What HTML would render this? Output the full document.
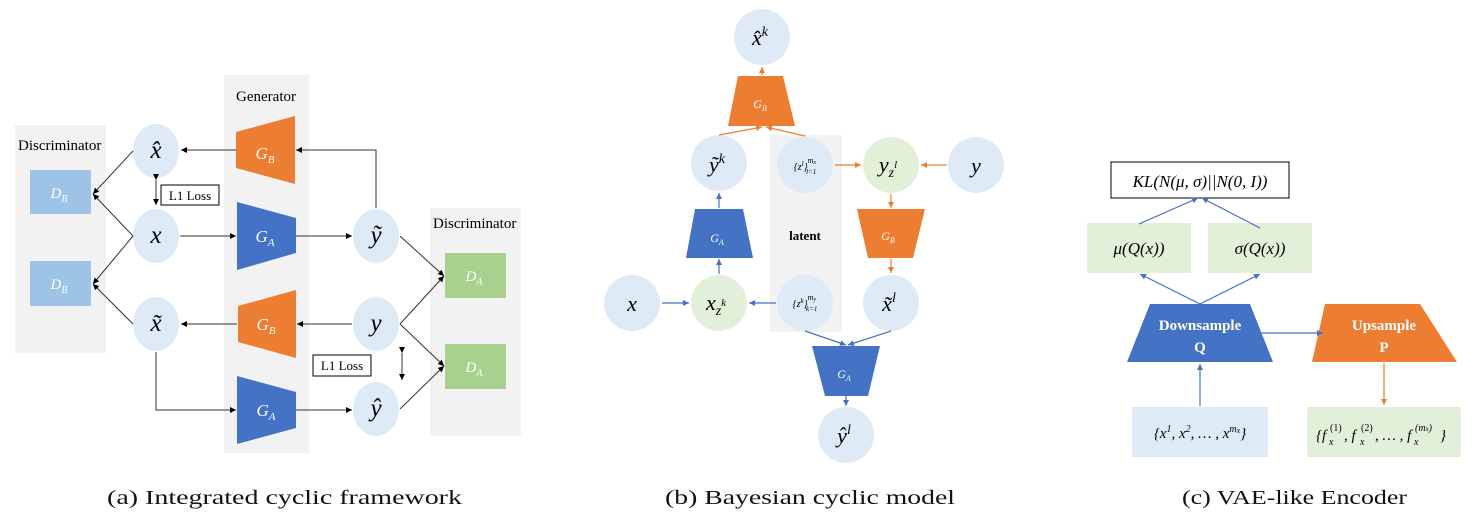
<!DOCTYPE html>
<html><head><meta charset="utf-8"><style>
html,body{margin:0;padding:0;background:#fff;}
svg{display:block;}
.m{font-family:"Liberation Serif",serif;font-style:italic;fill:#000;}
.w{font-family:"Liberation Serif",serif;font-style:italic;fill:#fff;}
.t{font-family:"Liberation Serif",serif;fill:#000;}
.cap{font-family:"Liberation Serif",serif;font-size:20px;fill:#111;}
</style></head><body>
<svg width="1484" height="518" viewBox="0 0 1484 518" xmlns="http://www.w3.org/2000/svg">
<defs>
<marker id="ak" markerWidth="7" markerHeight="7" refX="6" refY="3.5" orient="auto" markerUnits="userSpaceOnUse"><path d="M0,0.5 L6,3.5 L0,6.5z" fill="#000"/></marker>
<marker id="ab" markerWidth="7" markerHeight="7" refX="6" refY="3.5" orient="auto" markerUnits="userSpaceOnUse"><path d="M0,0.5 L6,3.5 L0,6.5z" fill="#4472C4"/></marker>
<marker id="ao" markerWidth="7" markerHeight="7" refX="6" refY="3.5" orient="auto" markerUnits="userSpaceOnUse"><path d="M0,0.5 L6,3.5 L0,6.5z" fill="#ED7D31"/></marker>
</defs>

<!-- Panel (a) -->
<g>
<rect x="15" y="125" width="91" height="228" fill="#F2F2F2"/>
<text x="18" y="150" class="t" font-size="15">Discriminator</text>
<rect x="224" y="75" width="85" height="378" fill="#F2F2F2"/>
<text x="266" y="101" class="t" font-size="15" text-anchor="middle">Generator</text>
<rect x="430" y="208" width="91" height="228" fill="#F2F2F2"/>
<text x="433" y="228" class="t" font-size="15">Discriminator</text>

<rect x="30" y="170" width="61" height="44" fill="#9DC3E6"/>
<text x="59" y="198" class="w" font-size="15" text-anchor="middle">D<tspan font-size="10" dy="4">B</tspan></text>
<rect x="30" y="261" width="61" height="45" fill="#9DC3E6"/>
<text x="59" y="289" class="w" font-size="15" text-anchor="middle">D<tspan font-size="10" dy="4">B</tspan></text>
<rect x="445" y="253" width="61" height="45" fill="#A9D18E"/>
<text x="474" y="281" class="w" font-size="15" text-anchor="middle">D<tspan font-size="10" dy="4">A</tspan></text>
<rect x="445" y="344" width="61" height="45" fill="#A9D18E"/>
<text x="474" y="372" class="w" font-size="15" text-anchor="middle">D<tspan font-size="10" dy="4">A</tspan></text>

<polygon points="236,132 295,116 295,184 236,168" fill="#ED7D31"/>
<text x="265" y="159" class="w" font-size="17" text-anchor="middle">G<tspan font-size="11" dy="4">B</tspan></text>
<polygon points="237,202 296,218 296,253 237,270" fill="#4472C4"/>
<text x="265" y="242" class="w" font-size="17" text-anchor="middle">G<tspan font-size="11" dy="4">A</tspan></text>
<polygon points="238,306 296,290 296,358 238,342" fill="#ED7D31"/>
<text x="266" y="330" class="w" font-size="17" text-anchor="middle">G<tspan font-size="11" dy="4">B</tspan></text>
<polygon points="237,376 296,392 296,428 237,444" fill="#4472C4"/>
<text x="266" y="416" class="w" font-size="17" text-anchor="middle">G<tspan font-size="11" dy="4">A</tspan></text>

<g fill="#DEEBF7">
<ellipse cx="156" cy="151" rx="23" ry="27"/>
<ellipse cx="156" cy="236" rx="23" ry="27"/>
<ellipse cx="156" cy="324" rx="23" ry="27"/>
<ellipse cx="376" cy="236" rx="23" ry="27"/>
<ellipse cx="376" cy="324" rx="23" ry="27"/>
<ellipse cx="376" cy="409" rx="23" ry="27"/>
</g>
<g class="m" font-size="25" text-anchor="middle">
<text x="156" y="158">x̂</text><text x="156" y="243">x</text><text x="156" y="331">x̃</text>
<text x="376" y="243">ỹ</text><text x="376" y="331">y</text><text x="376" y="416">ŷ</text>
</g>

<g stroke="#333" stroke-width="1" fill="none" marker-end="url(#ak)">
<line x1="236" y1="150" x2="181" y2="150"/>
<polyline points="376,208 376,150 296,150"/>
<line x1="180" y1="236" x2="236" y2="236"/>
<line x1="296" y1="236" x2="352" y2="236"/>
<line x1="352" y1="324" x2="297" y2="324"/>
<line x1="237" y1="324" x2="181" y2="324"/>
<polyline points="156,352 156,410 236,410"/>
<line x1="296" y1="410" x2="352" y2="410"/>
<line x1="133" y1="151" x2="93" y2="194"/>
<line x1="133" y1="236" x2="93" y2="194"/>
<line x1="133" y1="236" x2="93" y2="284"/>
<line x1="133" y1="324" x2="93" y2="284"/>
<line x1="400" y1="236" x2="444" y2="276"/>
<line x1="400" y1="324" x2="444" y2="276"/>
<line x1="400" y1="324" x2="444" y2="366"/>
<line x1="400" y1="409" x2="444" y2="366"/>
</g>
<line x1="156" y1="180" x2="156" y2="205" stroke="#333" marker-end="url(#ak)" marker-start="url(#ak)"/>
<line x1="402" y1="353" x2="402" y2="380" stroke="#333" marker-end="url(#ak)" marker-start="url(#ak)"/>
<rect x="161" y="185" width="58" height="20" fill="#fff" stroke="#000"/>
<text x="190" y="200" class="t" font-size="13" text-anchor="middle">L1 Loss</text>
<rect x="313" y="355" width="58" height="21" fill="#fff" stroke="#000"/>
<text x="342" y="370" class="t" font-size="13" text-anchor="middle">L1 Loss</text>
<text x="107" y="504" class="cap" textLength="355" lengthAdjust="spacingAndGlyphs">(a) Integrated cyclic framework</text>
</g>

<!-- Panel (b) -->
<g>
<rect x="770" y="135" width="72" height="197" fill="#F2F2F2"/>
<text x="805" y="240" class="t" font-size="13" font-weight="bold" text-anchor="middle">latent</text>
<polygon points="738,76 783,76 795,126 728,126" fill="#ED7D31"/>
<text x="760" y="108" class="w" font-size="12" text-anchor="middle">G<tspan font-size="8" dy="3">B</tspan></text>
<polygon points="695,209 743,209 753,258 686,258" fill="#4472C4"/>
<text x="717" y="242" class="w" font-size="12" text-anchor="middle">G<tspan font-size="8" dy="3">A</tspan></text>
<polygon points="857,209 925,209 913,258 868,258" fill="#ED7D31"/>
<text x="888" y="240" class="w" font-size="12" text-anchor="middle">G<tspan font-size="8" dy="3">B</tspan></text>
<polygon points="812,346 880,346 868,396 825,396" fill="#4472C4"/>
<text x="844" y="378" class="w" font-size="12" text-anchor="middle">G<tspan font-size="8" dy="3">A</tspan></text>

<g fill="#DEEBF7">
<circle cx="762" cy="37" r="28"/>
<circle cx="719" cy="163" r="28"/>
<circle cx="805" cy="165" r="28"/>
<circle cx="976" cy="165" r="28"/>
<circle cx="632" cy="303" r="28"/>
<circle cx="805" cy="303" r="28"/>
<circle cx="891" cy="303" r="28"/>
<circle cx="846" cy="435" r="28"/>
</g>
<g fill="#E2F0D9">
<circle cx="891" cy="165" r="28"/>
<circle cx="719" cy="303" r="28"/>
</g>
<g class="m" font-size="22" text-anchor="middle">
<text x="760" y="45">x̂<tspan font-size="14" dy="-9">k</tspan></text>
<text x="717" y="172">ỹ<tspan font-size="14" dy="-9">k</tspan></text>
<text x="976" y="173">y</text>
<text x="632" y="311">x</text>
<text x="889" y="311">x̃<tspan font-size="14" dy="-9">l</tspan></text>
<text x="844" y="443">ŷ<tspan font-size="14" dy="-9">l</tspan></text>
<text x="888" y="172">y<tspan font-size="14" dy="5">z</tspan><tspan font-size="11" dy="-9">l</tspan></text>
<text x="716" y="310">x<tspan font-size="14" dy="5">z</tspan><tspan font-size="11" dy="-9">k</tspan></text>
</g>
<text x="805" y="170" class="m" font-size="10" text-anchor="middle">{z<tspan font-size="7" dy="-4">l</tspan><tspan dy="4">}</tspan><tspan font-size="8" dy="-7">m</tspan><tspan font-size="6" dy="1">x</tspan><tspan font-size="7" dx="-10" dy="10">l=1</tspan></text>
<text x="805" y="307" class="m" font-size="10" text-anchor="middle">{z<tspan font-size="7" dy="-4">k</tspan><tspan dy="4">}</tspan><tspan font-size="8" dy="-7">m</tspan><tspan font-size="6" dy="1">y</tspan><tspan font-size="7" dx="-10" dy="10">k=1</tspan></text>

<g stroke="#ED7D31" stroke-width="1.2" fill="none" marker-end="url(#ao)">
<line x1="762" y1="75" x2="762" y2="67"/>
<line x1="719" y1="135" x2="762" y2="127"/>
<line x1="805" y1="136" x2="766" y2="127"/>
<line x1="835" y1="165" x2="861" y2="165"/>
<line x1="947" y1="165" x2="921" y2="165"/>
<line x1="891" y1="194" x2="891" y2="208"/>
<line x1="891" y1="259" x2="891" y2="273"/>
</g>
<g stroke="#4472C4" stroke-width="1.2" fill="none" marker-end="url(#ab)">
<line x1="662" y1="303" x2="689" y2="303"/>
<line x1="776" y1="303" x2="749" y2="303"/>
<line x1="719" y1="274" x2="719" y2="259"/>
<line x1="719" y1="208" x2="719" y2="193"/>
<line x1="805" y1="331" x2="846" y2="345"/>
<line x1="891" y1="331" x2="848" y2="345"/>
<line x1="846" y1="396" x2="846" y2="406"/>
</g>
<text x="665" y="504" class="cap" textLength="290" lengthAdjust="spacingAndGlyphs">(b) Bayesian cyclic model</text>
</g>

<!-- Panel (c) -->
<g>
<rect x="1111" y="162" width="178" height="36" fill="#fff" stroke="#000"/>
<text x="1200" y="187" class="m" font-size="17" text-anchor="middle">KL(N(μ, σ)||N(0, I))</text>
<rect x="1087" y="223" width="104" height="50" fill="#E2F0D9"/>
<text x="1139" y="254" class="m" font-size="17" text-anchor="middle">μ(Q(x))</text>
<rect x="1208" y="223" width="104" height="50" fill="#E2F0D9"/>
<text x="1260" y="254" class="m" font-size="17" text-anchor="middle">σ(Q(x))</text>
<polygon points="1150,304 1250,304 1273,362 1127,362" fill="#4472C4"/>
<text x="1200" y="330" class="t" font-size="15" font-weight="bold" style="fill:#fff" text-anchor="middle">Downsample</text>
<text x="1200" y="352" class="t" font-size="15" font-weight="bold" style="fill:#fff" text-anchor="middle">Q</text>
<polygon points="1325,304 1420,304 1457,362 1312,362" fill="#ED7D31"/>
<text x="1384" y="330" class="t" font-size="15" font-weight="bold" style="fill:#fff" text-anchor="middle">Upsample</text>
<text x="1384" y="352" class="t" font-size="15" font-weight="bold" style="fill:#fff" text-anchor="middle">P</text>
<rect x="1132" y="407" width="136" height="50" fill="#DEEBF7"/>
<text x="1200" y="438" class="m" font-size="15" text-anchor="middle">{x<tspan font-size="10" dy="-6">1</tspan><tspan dy="6">, x</tspan><tspan font-size="10" dy="-6">2</tspan><tspan dy="6">, … , x</tspan><tspan font-size="10" dy="-6">m</tspan><tspan font-size="8" dy="1">x</tspan><tspan dy="5">}</tspan></text>
<rect x="1307" y="407" width="154" height="50" fill="#E2F0D9"/>
<g class="m" font-size="15">
<text x="1316" y="440">{f</text>
<text x="1329" y="445" font-size="10">x</text>
<text x="1330" y="431" font-size="10" style="font-style:normal">(1)</text>
<text x="1344" y="440">, f</text>
<text x="1360" y="445" font-size="10">x</text>
<text x="1361" y="431" font-size="10" style="font-style:normal">(2)</text>
<text x="1375" y="440">, … , f</text>
<text x="1414" y="445" font-size="10">x</text>
<text x="1415" y="431" font-size="10">(m<tspan font-size="7">x</tspan>)</text>
<text x="1440" y="440">}</text>
</g>

<g stroke="#4472C4" stroke-width="1.2" fill="none" marker-end="url(#ab)">
<line x1="1139" y1="224" x2="1198" y2="198"/>
<line x1="1260" y1="228" x2="1202" y2="198"/>
<line x1="1200" y1="304" x2="1140" y2="274"/>
<line x1="1200" y1="304" x2="1260" y2="274"/>
<line x1="1200" y1="406" x2="1200" y2="364"/>
<line x1="1261" y1="333" x2="1323" y2="333"/>
</g>
<line x1="1384" y1="363" x2="1384" y2="405" stroke="#ED7D31" stroke-width="1.2" marker-end="url(#ao)"/>
<text x="1182" y="504" class="cap" textLength="225" lengthAdjust="spacingAndGlyphs">(c) VAE-like Encoder</text>
</g>
</svg>
</body></html>
